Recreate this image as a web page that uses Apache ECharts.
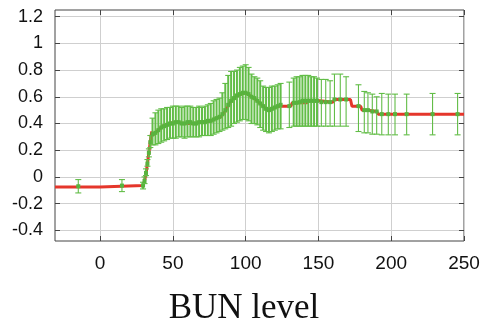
<!DOCTYPE html>
<html lang="en">
<head>
    <meta charset="UTF-8">
    <title>BUN level</title>
    <style>
        html, body { margin: 0; padding: 0; background: #fff; }
        #main { width: 486px; height: 322px; }
    </style>
</head>
<body>
    <div id="main"></div>
    <script src="https://cdn.jsdelivr.net/npm/echarts@6/dist/echarts.min.js"></script>
    <script type="text/javascript">
        // tick positions
        var xTicks = [0, 50, 100, 150, 200, 250];
        var yTicks = [-0.4, -0.2, 0, 0.2, 0.4, 0.6, 0.8, 1, 1.2];

        // red line (mean curve)
        var lineX = [-31, 0, 0, 29.5, 30.5, 31.5, 32.5, 33.5, 34.5, 35.5, 36, 38, 40, 43, 47, 52, 58, 64, 70, 76, 80, 83,
            86, 89, 93, 97, 100, 104, 108, 112, 116, 120, 124, 131, 132, 142, 143, 151, 152, 160, 161, 172, 173,
            179, 180, 184, 185, 190, 191, 250];
        var lineY = [-0.075, -0.075, -0.065, -0.065, -0.03, 0.02, 0.1, 0.18, 0.27, 0.34, 0.31, 0.33, 0.35, 0.38, 0.4, 0.41,
            0.4, 0.4, 0.41, 0.42, 0.44, 0.45, 0.49, 0.55, 0.6, 0.62, 0.63, 0.6, 0.57, 0.53, 0.5, 0.52, 0.53, 0.53, 0.555,
            0.555, 0.57, 0.57, 0.56, 0.56, 0.58, 0.58, 0.53, 0.53, 0.5, 0.5, 0.49, 0.49, 0.47, 0.47];

        // error bars: position, mean, low, high
        var errX = [-15, 15, 29.5, 30.5, 31.5, 32.5, 33.5, 34.5,
            36, 38, 40, 42, 44, 46, 48, 50, 52, 54, 56, 58, 60, 62, 64, 66, 68, 70, 72, 74, 76, 78, 80,
            82, 84, 86, 88, 90, 92, 94, 96, 98, 100, 102, 104, 106, 108, 110, 112, 114, 116, 118, 120, 122, 124,
            130, 133, 135, 137, 139, 141, 143, 145, 147, 149, 152, 155, 158, 161, 165, 169,
            177.5, 181.5, 184, 187, 190, 193.5, 198, 202.6, 210.6, 228.4, 245.6];
        var errMid = [-0.07, -0.065, -0.065, -0.03, 0.03, 0.1, 0.18, 0.26,
            0.32, 0.33, 0.35, 0.37, 0.38, 0.39, 0.4, 0.4, 0.41, 0.41, 0.4, 0.4, 0.41, 0.41, 0.4, 0.4, 0.41, 0.41, 0.41, 0.42, 0.42, 0.43, 0.44,
            0.45, 0.47, 0.5, 0.54, 0.57, 0.59, 0.61, 0.62, 0.63, 0.63, 0.62, 0.6, 0.59, 0.57, 0.55, 0.53, 0.51, 0.5, 0.51, 0.52, 0.53, 0.54,
            0.53, 0.555, 0.555, 0.56, 0.57, 0.57, 0.57, 0.57, 0.57, 0.57, 0.56, 0.56, 0.56, 0.58, 0.58, 0.58,
            0.53, 0.5, 0.5, 0.49, 0.49, 0.47, 0.47, 0.47, 0.47, 0.47, 0.47];
        var errLow = [-0.12, -0.11, -0.09, -0.05, 0.01, 0.08, 0.15, 0.22,
            0.24, 0.24, 0.25, 0.26, 0.27, 0.28, 0.29, 0.29, 0.29, 0.3, 0.3, 0.29, 0.3, 0.3, 0.3, 0.3, 0.3, 0.31, 0.31, 0.31, 0.31, 0.32, 0.33,
            0.34, 0.35, 0.36, 0.37, 0.38, 0.4, 0.41, 0.42, 0.43, 0.43, 0.42, 0.4, 0.4, 0.39, 0.37, 0.35, 0.34, 0.33, 0.34, 0.35, 0.36, 0.36,
            0.37, 0.38, 0.38, 0.38, 0.38, 0.38, 0.38, 0.38, 0.38, 0.38, 0.38, 0.38, 0.38, 0.38, 0.38, 0.38,
            0.34, 0.33, 0.33, 0.32, 0.32, 0.315, 0.315, 0.315, 0.315, 0.315, 0.315];
        var errHigh = [-0.02, -0.02, -0.04, 0.0, 0.06, 0.13, 0.21, 0.31,
            0.44, 0.48, 0.5, 0.51, 0.51, 0.52, 0.52, 0.53, 0.53, 0.53, 0.52, 0.53, 0.53, 0.53, 0.52, 0.52, 0.53, 0.52, 0.53, 0.54, 0.55, 0.57, 0.58,
            0.59, 0.63, 0.7, 0.76, 0.79, 0.79, 0.8, 0.82, 0.83, 0.84, 0.82, 0.77, 0.75, 0.74, 0.72, 0.68, 0.67, 0.67, 0.68, 0.68, 0.69, 0.7,
            0.71, 0.74, 0.75, 0.75, 0.76, 0.76, 0.76, 0.75, 0.75, 0.74, 0.73, 0.73, 0.72, 0.77, 0.77, 0.75,
            0.69, 0.64, 0.63, 0.62, 0.6, 0.625, 0.62, 0.62, 0.62, 0.625, 0.625];

        var myChart = echarts.init(document.getElementById('main'));

        var lineData = [];
        for (var i = 0; i < lineX.length; i++) {
            lineData.push([lineX[i], lineY[i]]);
        }
        var errData = [];
        for (var j = 0; j < errX.length; j++) {
            errData.push([errX[j], errLow[j], errHigh[j], errMid[j]]);
        }

        var green = '#62bd47';

        function renderErr(params, api) {
            var k = params.dataIndex;
            var x = api.value(0);
            var lo = api.coord([x, api.value(1)]);
            var hi = api.coord([x, api.value(2)]);
            var mid = api.coord([x, api.value(3)]);
            // bars packed closely together get a heavier stroke so they merge into a band
            var dense = (k > 0 && errX[k] - errX[k - 1] <= 2.1) || (k < errX.length - 1 && errX[k + 1] - errX[k] <= 2.1);
            var w = 3;
            var style = { stroke: green, lineWidth: dense ? 2 : 1.1, fill: null };
            var cap = { stroke: green, lineWidth: 1.1, fill: null };
            return {
                type: 'group',
                children: [
                    { type: 'line', shape: { x1: lo[0], y1: lo[1], x2: hi[0], y2: hi[1] }, style: style },
                    { type: 'line', shape: { x1: lo[0] - w, y1: lo[1], x2: lo[0] + w, y2: lo[1] }, style: cap },
                    { type: 'line', shape: { x1: hi[0] - w, y1: hi[1], x2: hi[0] + w, y2: hi[1] }, style: cap },
                    { type: 'rect', shape: { x: mid[0] - 2, y: mid[1] - 2, width: 4, height: 4 }, style: { fill: '#58b33e' } }
                ]
            };
        }

        var tickStyle = { color: '#444', width: 1 };

        var option = {
            animation: false,
            grid: {
                left: 55,
                right: 22,
                top: 10,
                bottom: 81,
                show: true,
                borderColor: '#444',
                borderWidth: 1
            },
            xAxis: [{
                type: 'value',
                min: -31,
                max: 250,
                axisLine: { show: false, onZero: false },
                axisTick: { inside: true, length: 5, lineStyle: tickStyle, customValues: xTicks },
                axisLabel: {
                    customValues: xTicks,
                    margin: 13,
                    color: '#111',
                    fontSize: 19,
                    fontFamily: 'Liberation Sans'
                },
                splitLine: { show: true, lineStyle: { color: '#cfcfcf', width: 1 } }
            }, {
                type: 'value',
                position: 'top',
                min: -31,
                max: 250,
                axisLine: { show: false, onZero: false },
                axisTick: { inside: true, length: 5, lineStyle: tickStyle, customValues: xTicks },
                axisLabel: { show: false },
                splitLine: { show: false }
            }],
            yAxis: [{
                type: 'value',
                min: -0.48,
                max: 1.25,
                axisLine: { show: false, onZero: false },
                axisTick: { inside: true, length: 5, lineStyle: tickStyle, customValues: yTicks },
                axisLabel: {
                    customValues: yTicks,
                    margin: 12,
                    color: '#111',
                    fontSize: 18,
                    fontFamily: 'Liberation Sans'
                },
                splitLine: { show: true, lineStyle: { color: '#cfcfcf', width: 1 } }
            }, {
                type: 'value',
                position: 'right',
                min: -0.48,
                max: 1.25,
                axisLine: { show: false, onZero: false },
                axisTick: { inside: true, length: 5, lineStyle: tickStyle, customValues: yTicks },
                axisLabel: { show: false },
                splitLine: { show: false }
            }],
            graphic: [{
                type: 'text',
                x: 244,
                y: 309,
                style: {
                    text: 'BUN level',
                    fontFamily: 'Liberation Serif',
                    fontSize: 35,
                    fill: '#111',
                    textAlign: 'center',
                    textVerticalAlign: 'middle'
                }
            }],
            series: [{
                type: 'line',
                data: lineData,
                showSymbol: false,
                lineStyle: { color: '#e5362b', width: 3 },
                z: 2
            }, {
                type: 'custom',
                data: errData,
                renderItem: renderErr,
                encode: { x: 0, y: [1, 2] },
                z: 3
            }]
        };

        myChart.setOption(option);
    </script>
</body>
</html>
